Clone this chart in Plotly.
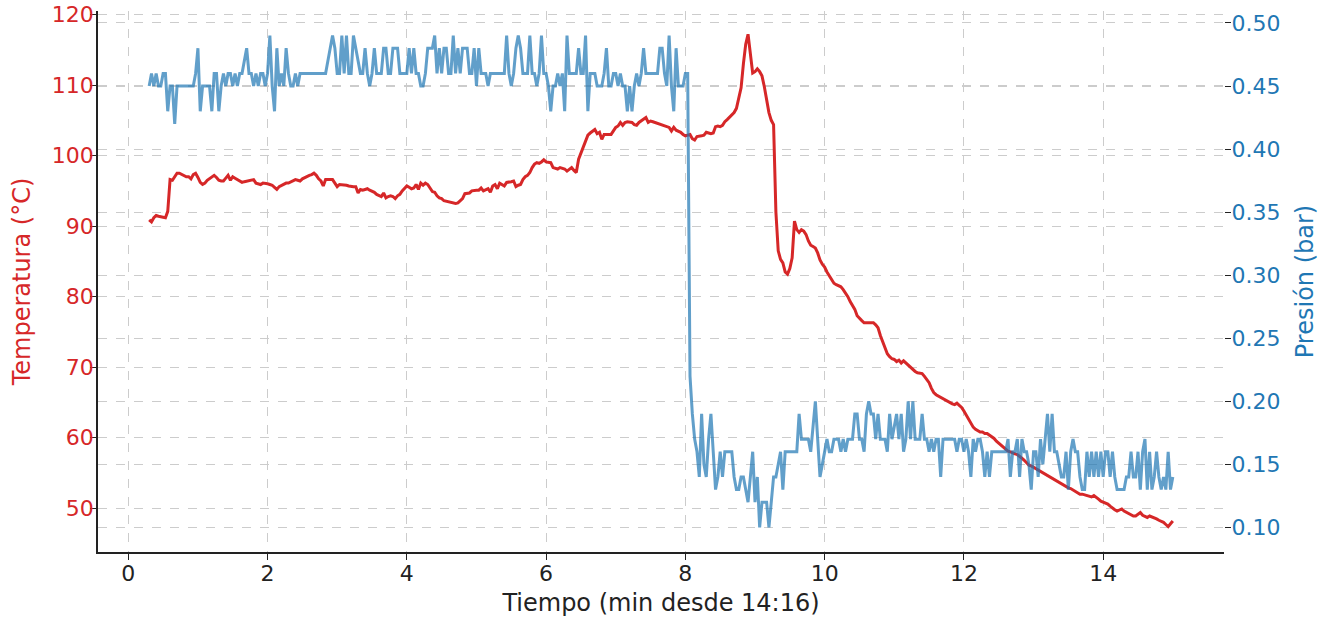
import numpy as np
import plotly.graph_objects as go

# Sampling: every 2 s starting at 0.3 min after 14:16
START_MIN = 0.3
STEP_S = 2

# Pressure readings (hundredths of bar)
pressure_cbar = [
    45,46,45,46,45,45,46,46,43,45,45,42,45,45,45,45,45,45,45,45,
    46,48,43,45,45,45,45,43,46,46,43,45,46,45,46,46,45,46,45,46,
    46,47,48,46,46,45,46,45,46,46,45,46,49,45,43,48,45,46,45,48,
    46,45,45,46,45,46,46,46,46,46,46,46,46,46,46,46,46,47,48,49,
    48,46,46,49,46,49,46,46,49,48,47,46,46,48,46,45,46,48,46,46,
    46,48,48,46,46,48,48,48,46,46,46,46,48,46,48,46,46,45,45,46,
    48,48,48,49,46,48,46,48,48,46,46,49,46,48,46,48,48,48,46,46,
    48,45,48,46,46,46,45,46,46,46,46,46,46,46,49,46,45,46,48,49,
    48,46,46,46,49,46,46,45,46,49,46,46,45,43,45,45,46,45,46,43,
    49,46,46,46,46,48,46,46,49,43,46,46,46,45,45,45,46,48,45,45,
    46,46,45,46,45,45,43,45,43,45,46,45,46,48,46,46,46,46,46,46,
    48,48,46,45,49,45,43,48,45,45,45,46,46,22,19,17,16,14,19,15,
    14,17,19,16,13,14,16,14,16,16,16,16,14,13,13,14,14,13,12,14,
    16,12,14,10,12,12,12,10,12,14,14,15,16,13,16,16,16,16,16,16,
    19,17,17,17,17,16,18,20,17,14,15,16,17,16,16,17,17,17,16,17,
    16,17,17,17,19,19,17,17,16,19,20,19,19,17,19,17,17,17,16,19,
    17,18,19,17,19,16,17,20,17,20,17,17,17,19,17,17,16,17,16,17,
    17,14,17,17,17,17,17,17,16,17,17,16,17,16,14,17,16,17,17,16,
    14,16,14,16,16,16,16,16,16,16,17,14,16,16,17,14,17,16,16,15,
    13,16,16,14,17,15,17,19,16,19,16,16,15,14,14,16,13,16,17,16,
    16,14,13,13,16,14,16,14,16,14,16,14,16,16,14,16,14,13,13,13,
    13,14,14,16,14,14,16,13,16,17,13,16,13,14,16,14,13,14,13,16,13,14,
]

# Temperature readings (°C)
temperature_c = [
    90.9,90.6,91.2,91.5,91.4,91.3,91.3,91.2,92.1,96.6,96.5,97.1,97.5,97.5,97.3,97.1,97.0,97.0,96.7,97.3,
    97.5,96.9,96.2,95.9,96.1,96.5,96.7,97.0,97.2,96.9,96.5,96.4,96.4,96.8,97.2,96.5,97.0,96.8,96.6,96.4,
    96.2,96.3,96.4,96.5,96.6,96.6,96.1,96.0,95.9,96.1,96.1,96.0,95.9,95.8,95.5,95.2,95.6,95.8,95.9,96.1,
    96.1,96.3,96.4,96.6,96.5,96.4,96.7,96.9,97.1,97.2,97.3,97.5,97.2,96.7,96.4,95.7,96.6,96.6,96.6,96.6,
    96.1,95.6,95.9,95.9,95.9,95.8,95.7,95.6,95.6,95.6,94.7,95.2,95.1,95.2,95.3,95.1,95.0,94.8,94.5,94.3,
    94.2,94.7,94.0,94.2,94.3,94.2,93.9,94.3,94.5,95.0,95.3,95.7,95.5,95.3,95.4,95.9,95.2,96.1,95.8,96.1,
    95.9,95.4,94.9,94.8,94.3,94.0,93.9,93.6,93.5,93.4,93.4,93.3,93.2,93.3,93.6,93.9,94.6,94.7,94.7,95.0,
    95.1,95.1,95.1,95.4,95.0,95.2,95.3,94.8,95.7,95.9,95.3,96.1,95.9,95.7,96.2,96.2,96.3,96.4,95.6,95.8,
    95.9,96.6,97.0,97.2,97.6,98.3,98.8,99.0,98.9,99.1,99.4,99.1,99.0,99.0,98.3,98.2,98.1,98.3,98.2,98.1,
    97.8,98.1,98.3,97.9,97.6,99.5,100.4,101.3,102.3,102.9,103.2,103.5,103.7,103.1,103.3,102.3,103.0,103.0,103.0,103.0,
    103.5,104.0,104.2,104.7,104.3,104.7,104.8,104.8,104.7,104.4,104.3,104.7,104.9,105.2,105.4,104.7,104.9,104.8,104.7,104.6,
    104.5,104.4,104.2,104.1,104.0,103.5,104.0,103.6,103.5,103.3,103.0,102.8,102.9,103.0,102.4,102.2,102.7,102.7,102.8,102.9,
    103.3,103.2,103.1,103.2,104.1,104.2,104.1,104.3,104.8,105.1,105.4,105.7,106.1,106.7,108.0,109.6,113.0,115.8,117.2,114.6,
    111.7,111.9,112.3,111.9,111.3,109.8,108.0,106.1,105.0,104.4,92.0,86.5,85.3,84.8,83.5,83.2,84.0,85.5,90.7,89.5,
    89.1,89.5,89.3,88.8,87.9,87.3,87.1,86.9,86.2,85.2,84.6,84.2,83.5,83.0,82.5,81.9,81.7,81.6,81.4,81.0,
    80.5,80.0,79.3,78.7,78.2,77.3,76.9,76.6,76.3,76.3,76.3,76.3,76.3,76.0,75.6,74.5,73.6,72.6,71.9,71.5,
    71.2,71.1,70.8,71.0,70.6,70.9,70.6,70.3,69.9,69.6,69.4,69.2,69.2,69.1,68.7,68.3,67.8,67.0,66.4,66.1,
    65.9,65.7,65.6,65.4,65.2,65.0,64.8,64.7,64.9,64.6,64.3,63.8,63.2,62.5,62.0,61.5,61.2,61.0,60.8,60.8,
    60.6,60.6,60.4,60.2,59.9,59.5,59.2,58.9,58.7,58.4,58.1,58.0,57.8,57.7,57.6,57.4,57.1,56.8,56.4,56.1,
    56.0,55.8,55.6,55.4,55.2,55.0,54.8,54.6,54.4,54.3,54.1,53.9,53.6,53.4,53.3,53.1,52.9,52.8,52.6,52.4,
    52.2,52.0,52.0,51.9,51.8,51.7,51.6,51.8,51.6,51.3,51.0,50.9,50.8,50.6,50.3,50.0,49.8,49.6,49.8,49.9,
    49.6,49.4,49.3,49.1,48.9,48.9,49.2,49.4,49.0,48.9,48.7,48.9,48.8,48.7,48.5,48.3,48.2,48.0,47.7,47.4,47.8,48.2,
]

x_ticks = [0, 2, 4, 6, 8, 10, 12, 14]
temp_ticks = [50, 60, 70, 80, 90, 100, 110, 120]
pres_ticks = [0.10, 0.15, 0.20, 0.25, 0.30, 0.35, 0.40, 0.45, 0.50]

n = len(temperature_c)
time_min = START_MIN + np.arange(n) * STEP_S / 60.0
pressure_bar = np.array(pressure_cbar) / 100.0

RED = "#d62728"
BLUE = "#1f77b4"
DARK = "#222222"
GRID = "#cccccc"
FONT = "DejaVu Sans"
TICK_SIZE = 22
TITLE_SIZE = 24

fig = go.Figure()
fig.add_trace(go.Scatter(x=time_min, y=temperature_c, mode="lines",
                         line=dict(color=RED, width=3), name="Temperatura",
                         yaxis="y"))
fig.add_trace(go.Scatter(x=time_min, y=pressure_bar, mode="lines",
                         line=dict(color=BLUE, width=3), opacity=0.7,
                         name="Presión", yaxis="y2"))

fig.update_layout(
    width=1329, height=621,
    margin=dict(l=98, r=105, t=11, b=69),
    paper_bgcolor="white", plot_bgcolor="white",
    showlegend=False,
    font=dict(family=FONT, size=TICK_SIZE, color=DARK),
    xaxis=dict(
        range=[-0.435, 15.735], tickmode="array", tickvals=x_ticks,
        ticks="outside", ticklen=6, tickwidth=1.3, tickcolor=DARK,
        ticklabelstandoff=-5,
        showline=True, linecolor=DARK, linewidth=1.8,
        showgrid=True, gridcolor=GRID, gridwidth=1, griddash="dash",
        zeroline=False, automargin=False,
        tickfont=dict(size=TICK_SIZE, color=DARK),
        title=dict(text="Tiempo (min desde 14:16)",
                   font=dict(size=TITLE_SIZE, color=DARK), standoff=9),
    ),
    yaxis=dict(
        range=[43.8, 120.5], tickmode="array", tickvals=temp_ticks,
        ticks="outside", ticklen=6, tickwidth=1.3, tickcolor=DARK,
        ticklabelstandoff=-8,
        showline=True, linecolor=DARK, linewidth=1.8,
        showgrid=True, gridcolor=GRID, gridwidth=1, griddash="dash",
        zeroline=False, automargin=False,
        tickfont=dict(size=TICK_SIZE, color=RED),
        title=dict(text="Temperatura (°C)",
                   font=dict(size=TITLE_SIZE, color=RED), standoff=14),
    ),
    yaxis2=dict(
        range=[0.0805, 0.5095], overlaying="y", side="right",
        tickmode="array", tickvals=pres_ticks,
        ticktext=[f"{v:.2f}" for v in pres_ticks],
        ticks="outside", ticklen=6, tickwidth=1.3, tickcolor=DARK,
        ticklabelstandoff=-4,
        showline=False,
        showgrid=True, gridcolor=GRID, gridwidth=1, griddash="dash",
        zeroline=False, automargin=False,
        tickfont=dict(size=TICK_SIZE, color=BLUE),
        title=dict(text="Presión (bar)",
                   font=dict(size=TITLE_SIZE, color=BLUE), standoff=16),
    ),
)

# remove the browser's default page margin so the figure sits at the window origin
fig.write_html("out.html",
               config={"displayModeBar": False},
               post_script="document.body.style.margin='0';")
